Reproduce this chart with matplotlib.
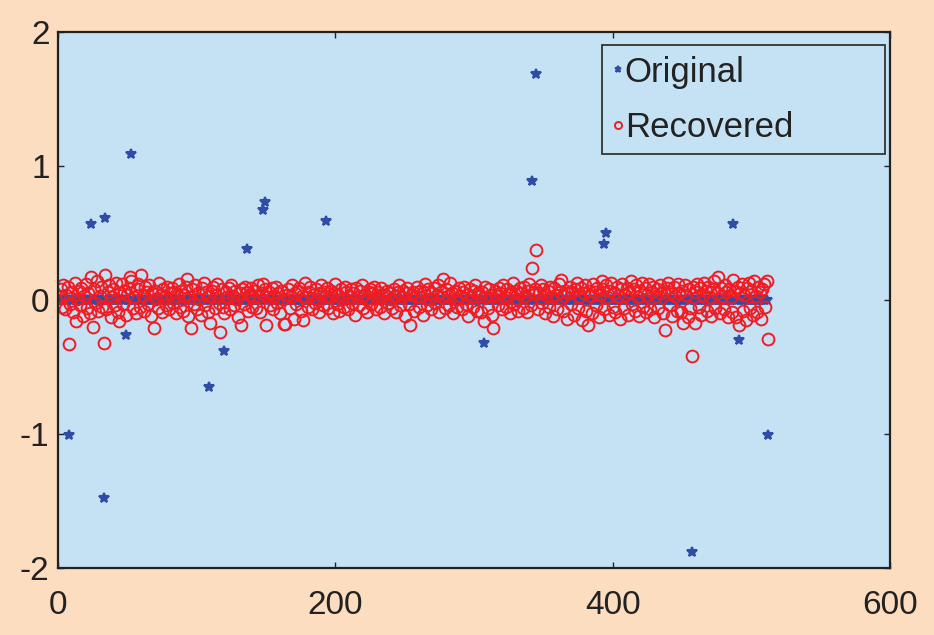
import numpy as np
import matplotlib.pyplot as plt

# sparse original signal: positions (1-based) and values of the non-zero entries
n = 512
spike_idx = [8, 24, 33, 34, 49, 53, 109, 120, 136, 148, 149, 193,
             307, 342, 345, 394, 395, 457, 487, 491, 512]
spike_val = [-1.01, 0.57, -1.48, 0.61, -0.26, 1.09, -0.65, -0.38, 0.38, 0.67, 0.73, 0.59,
             -0.32, 0.89, 1.69, 0.42, 0.50, -1.88, 0.57, -0.30, -1.01]

# recovered signal (16 per row)
recovered = [
    0.02, 0.08, -0.05, 0.11, -0.07, 0.04, 0.10, -0.33, -0.03, 0.06, -0.09, 0.13, -0.16, 0.01, 0.07, -0.04,
    0.09, -0.12, 0.03, 0.12, -0.06, 0.05, -0.10, 0.17, -0.20, 0.08, -0.02, 0.14, -0.08, 0.03, 0.10, -0.05,
    -0.32, 0.19, -0.07, 0.06, 0.11, -0.13, 0.02, 0.08, -0.04, 0.13, -0.09, -0.16, 0.05, 0.12, -0.03, 0.07,
    -0.11, 0.04, 0.09, 0.17, 0.14, -0.06, 0.02, -0.10, 0.08, 0.12, -0.05, 0.19, 0.03, -0.08, 0.10, 0.06,
    -0.03, 0.11, -0.12, 0.05, -0.21, 0.07, 0.01, -0.06, 0.13, 0.04, -0.09, 0.08, 0.02, -0.04, 0.10, -0.07,
    0.05, 0.09, -0.02, 0.06, -0.10, 0.03, 0.12, -0.05, 0.07, -0.08, 0.04, 0.10, 0.16, -0.12, 0.02, -0.21,
    0.08, -0.03, 0.11, -0.07, 0.05, 0.01, -0.11, 0.09, 0.13, -0.04, 0.06, -0.09, 0.03, -0.17, 0.07, 0.10,
    -0.06, 0.04, 0.12, -0.02, -0.24, 0.08, -0.05, -0.10, 0.06, 0.02, 0.09, -0.07, 0.11, 0.03, -0.04, 0.07,
    0.01, -0.13, 0.05, -0.19, 0.08, -0.03, 0.10, 0.06, -0.08, 0.04, 0.09, -0.05, 0.02, 0.07, -0.06, 0.11,
    0.03, -0.09, 0.05, 0.12, 0.08, -0.19, 0.02, 0.06, -0.04, 0.09, -0.07, 0.03, 0.10, -0.02, 0.05, -0.10,
    0.07, 0.01, -0.18, -0.18, 0.04, 0.08, -0.06, 0.02, 0.11, -0.14, 0.05, -0.03, 0.07, 0.09, -0.08, 0.03,
    -0.15, 0.13, 0.02, -0.05, 0.06, 0.10, -0.07, 0.04, -0.02, 0.08, 0.01, -0.09, 0.05, 0.11, -0.04, 0.06,
    0.03, 0.09, -0.06, 0.02, 0.07, -0.10, 0.05, 0.12, -0.03, 0.04, -0.08, 0.08, 0.01, -0.05, 0.10, 0.06,
    -0.07, 0.03, 0.08, -0.02, 0.05, -0.11, 0.09, 0.02, -0.04, 0.07, 0.11, -0.06, 0.04, 0.01, -0.09, 0.06,
    0.08, -0.03, 0.05, 0.10, -0.07, 0.02, 0.06, -0.05, 0.09, 0.03, -0.10, 0.04, 0.07, -0.02, 0.05, 0.01,
    -0.06, 0.08, 0.03, -0.09, 0.06, 0.11, -0.04, 0.02, 0.07, -0.12, 0.05, 0.09, -0.03, -0.19, 0.04, 0.06,
    -0.08, 0.03, 0.10, -0.05, 0.07, 0.02, -0.11, 0.06, 0.12, -0.04, 0.08, 0.01, -0.07, 0.05, 0.09, -0.02,
    0.04, 0.11, -0.09, 0.06, 0.02, 0.16, -0.06, 0.08, 0.03, -0.04, 0.13, 0.05, -0.10, 0.07, 0.01, -0.05,
    0.09, 0.03, -0.07, 0.06, 0.10, -0.03, 0.04, -0.12, 0.08, 0.02, -0.05, 0.07, 0.11, -0.08, 0.05, 0.03,
    -0.09, 0.06, -0.16, 0.10, 0.02, -0.06, 0.08, 0.04, -0.11, -0.21, 0.07, 0.03, -0.04, 0.09, 0.05, -0.07,
    0.11, 0.02, -0.05, 0.08, 0.04, -0.10, 0.06, 0.13, -0.03, 0.07, 0.01, -0.08, 0.09, 0.05, -0.06, 0.10,
    0.03, -0.09, 0.07, 0.12, -0.04, 0.24, 0.06, 0.08, 0.37, -0.07, 0.05, 0.11, -0.02, 0.08, -0.10, 0.04,
    0.07, -0.05, 0.10, 0.02, -0.12, 0.09, 0.04, -0.07, 0.12, 0.06, 0.15, -0.08, 0.03, 0.07, -0.14, 0.05,
    0.10, -0.03, 0.06, -0.11, 0.08, 0.13, -0.06, 0.02, 0.09, -0.15, 0.05, 0.11, -0.08, -0.19, 0.07, 0.03,
    -0.10, 0.12, 0.06, -0.04, 0.09, -0.13, 0.04, 0.14, 0.08, -0.07, 0.11, 0.02, -0.11, 0.07, 0.13, -0.05,
    0.05, -0.09, 0.10, 0.03, -0.14, 0.08, 0.12, -0.06, 0.04, 0.09, -0.11, 0.06, 0.14, -0.03, 0.08, -0.08,
    0.11, 0.02, -0.12, 0.07, 0.13, -0.05, 0.09, -0.09, 0.04, 0.12, -0.07, 0.06, 0.10, -0.13, 0.03, 0.08,
    -0.06, 0.11, 0.05, -0.10, 0.07, -0.22, 0.09, 0.13, -0.04, 0.06, -0.12, 0.10, 0.03, -0.08, 0.12, 0.05,
    -0.09, 0.07, -0.17, 0.11, 0.04, -0.13, 0.08, -0.06, -0.42, 0.10, -0.17, 0.06, 0.12, -0.05, 0.09, -0.11,
    0.04, 0.13, 0.07, -0.08, 0.10, 0.02, -0.12, 0.08, 0.14, -0.06, 0.05, 0.17, -0.10, 0.09, 0.03, -0.07,
    0.11, 0.06, -0.13, 0.08, 0.02, -0.09, 0.15, 0.07, -0.13, 0.10, -0.19, 0.05, 0.12, -0.08, 0.04, -0.15,
    0.09, 0.13, -0.06, 0.07, -0.11, 0.14, 0.03, -0.09, 0.10, 0.06, -0.14, 0.08, 0.12, -0.05, 0.14, -0.29,
]

xticks = [0, 200, 400, 600]
yticks = [-2, -1, 0, 1, 2]

x = np.arange(1, n + 1)
original = np.zeros(n)
original[np.array(spike_idx) - 1] = spike_val

plt.rcParams['font.family'] = ['Liberation Sans', 'DejaVu Sans']
plt.rcParams['axes.unicode_minus'] = False

fig = plt.figure(figsize=(9.34, 6.35), dpi=100, facecolor='#fcddbf')
ax = fig.add_axes([0.062, 0.1055, 0.891, 0.844])
ax.set_facecolor('#c5e2f5')

ax.plot(x, original, '*', color='#2f4da6', markersize=7.5, markeredgewidth=1.5,
        label='Original')
ax.plot(x, recovered, 'o', color='#f01c24', markerfacecolor='none',
        markersize=8.5, markeredgewidth=1.4, label='Recovered')

ax.set_xlim(0, 600)
ax.set_ylim(-2, 2)
ax.set_xticks(xticks)
ax.set_yticks(yticks)
ax.tick_params(direction='in', top=True, right=True, length=4.5, width=1,
               labelsize=24, colors='#222222')
ax.tick_params(axis='x', pad=16)
ax.tick_params(axis='y', pad=6)
for s in ax.spines.values():
    s.set_linewidth(1.6)
    s.set_color('#222222')

leg = ax.legend(loc='upper left', bbox_to_anchor=(0.654, 0.0, 0.340, 0.9757),
                mode='expand', fontsize=25, handlelength=0.3, handletextpad=0.05,
                borderpad=0.3, labelspacing=0.65, borderaxespad=0,
                fancybox=False, framealpha=1, markerscale=0.6)
leg.get_frame().set_facecolor('#c5e2f5')
leg.get_frame().set_edgecolor('#333333')
leg.get_frame().set_linewidth(1.3)
for t in leg.get_texts():
    t.set_color('#222222')

fig.savefig('out.png', dpi=100, facecolor=fig.get_facecolor())
